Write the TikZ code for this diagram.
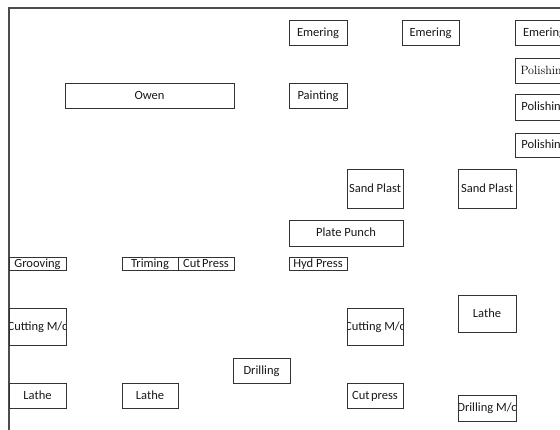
\documentclass[tikz,border=0pt]{standalone}
\usepackage{fontspec}
\newfontfamily\carlito{Carlito}
\begin{document}
\begin{tikzpicture}[x=1pt,y=-1pt,
  box/.style n args={3}{draw=black!80, line width=0.8pt, inner sep=0pt,
    minimum width=#1, minimum height=#2,
    path picture={\node[inner sep=0pt, anchor=base, text=black!90, font=\carlito\fontsize{12.5}{14}\selectfont] at ([yshift=-4pt]path picture bounding box.center) {#3};}},
  sbox/.style n args={3}{draw=black!80, line width=0.8pt, inner sep=0pt,
    minimum width=#1, minimum height=#2,
    path picture={\node[inner sep=0pt, anchor=base, text=black, font=\fontsize{12}{14}\selectfont] at ([yshift=-4pt]path picture bounding box.center) {#3};}},
  framecol/.style={draw=black!70, line width=1.1pt}]
\useasboundingbox (0,0) rectangle (560,430);
\clip (0,0) rectangle (560,430);
\fill[white] (0,0) rectangle (560,430);
\draw[framecol] (9,445) -- (9,8) -- (575,8);
% top area
\node[box={169pt}{25pt}{Owen}] (owen) at (149.5,95.5) {};
\node[box={58pt}{25pt}{Emering}] (em1) at (318,32.5) {};
\node[box={57pt}{25pt}{Emering}] (em2) at (430.5,32.5) {};
\node[box={58pt}{25pt}{Emering}] (em3) at (544,32.5) {};
\node[sbox={58pt}{25pt}{Polishing}] (pol1) at (544,70.5) {};
\node[box={58pt}{26pt}{Polishing}] (pol2) at (544,107) {};
\node[box={58pt}{24pt}{Polishing}] (pol3) at (544,145) {};
\node[box={58pt}{25pt}{Painting}] (paint) at (318,95.5) {};
% middle
\node[box={56pt}{39pt}{Sand Plast}] (sp1) at (375,188.5) {};
\node[box={58pt}{39pt}{Sand Plast}] (sp2) at (487,188.5) {};
\node[box={114pt}{26pt}{Plate Punch}] (pp) at (346,233) {};
\node[box={58pt}{13pt}{Hyd Press}] (hyd) at (318,263.5) {};
\node[box={57pt}{13pt}{Grooving}] (groov) at (37.5,263.5) {};
\node[box={56pt}{13pt}{Triming}] (trim) at (150,263.5) {};
\node[box={56pt}{13pt}{Cut\hspace{1.5pt}Press}] (cutp) at (206,263.5) {};
% bottom
\node[box={57pt}{37pt}{Cutting M/c}] (cut1) at (37.5,326.5) {};
\node[box={57pt}{25pt}{Lathe}] (lathe1) at (37.5,395.5) {};
\node[box={56pt}{25pt}{Lathe}] (lathe2) at (150,395.5) {};
\node[box={57pt}{25pt}{Drilling}] (drill) at (261.5,370.5) {};
\node[box={56pt}{37pt}{Cutting M/c}] (cut2) at (375,326.5) {};
\node[box={58pt}{37pt}{Lathe}] (lathe3) at (487,313.5) {};
\node[box={56pt}{25pt}{Cut\hspace{1.5pt}press}] (cutpress) at (375,395.5) {};
\node[box={58pt}{26pt}{Drilling M/c}] (drillmc) at (487,408) {};
\end{tikzpicture}
\end{document}
